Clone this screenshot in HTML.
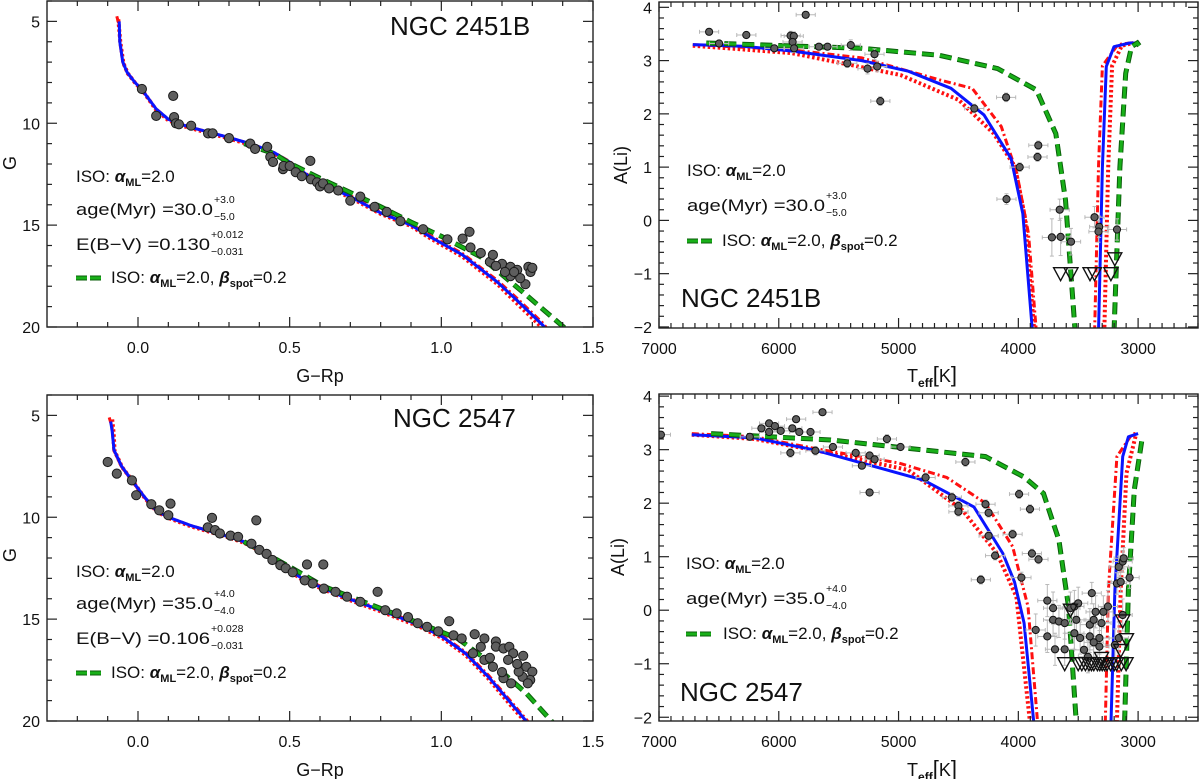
<!DOCTYPE html>
<html><head><meta charset="utf-8"><title>Li depletion and CMD isochrones</title>
<style>
html,body{margin:0;padding:0;background:#fff;}
svg{display:block;font-family:"Liberation Sans",Arial,sans-serif;}
</style></head>
<body>
<svg id="chart" width="1200" height="779" viewBox="0 0 1200 779" xmlns="http://www.w3.org/2000/svg"></svg>
<script>
// ===== DATA: top-left CMD (NGC 2451B) [G-Rp, G] =====
const tlIso = [[-0.062,5.0],[-0.06,6.0],[-0.05,7.0],[-0.036,7.5],[-0.01,8.0],[0.013,8.35],[0.06,9.3],[0.1,9.8],[0.14,10.05],[0.2,10.3],[0.3,10.7],[0.38,11.05],[0.45,11.45],[0.5,11.9],[0.58,12.78],[0.7,13.6],[0.8,14.4],[0.9,15.0],[0.964,15.58],[1.07,16.46],[1.185,17.8],[1.25,18.7],[1.334,19.9],[1.345,20.1]];
const tlDashDot = [[-0.07,4.75],[-0.062,5.2],[-0.06,6.0],[-0.05,7.0],[-0.036,7.5],[-0.01,8.0],[0.013,8.35],[0.06,9.3],[0.1,9.8],[0.14,10.05],[0.2,10.3],[0.3,10.7],[0.38,11.05],[0.45,11.45],[0.5,11.88],[0.58,12.75],[0.7,13.55],[0.8,14.35],[0.9,14.95],[0.964,15.52],[1.07,16.4],[1.185,17.72],[1.25,18.6],[1.334,19.8],[1.35,20.1]];
const tlDot = [[-0.065,4.9],[-0.058,6.05],[-0.048,7.05],[-0.034,7.55],[-0.008,8.05],[0.015,8.4],[0.06,9.35],[0.1,9.85],[0.14,10.1],[0.2,10.35],[0.3,10.75],[0.38,11.1],[0.45,11.5],[0.5,11.95],[0.58,12.85],[0.7,13.65],[0.8,14.45],[0.9,15.05],[0.964,15.65],[1.07,16.55],[1.185,17.9],[1.25,18.85],[1.33,20.0],[1.34,20.2]];
const tlSpot = [[0.35,11.0],[0.45,11.5],[0.492,11.9],[0.6,12.7],[0.7,13.4],[0.8,14.1],[0.9,14.85],[1.0,15.55],[1.13,16.56],[1.27,18.3],[1.403,20.0],[1.42,20.3]];
const tlStars = [[0.013,8.32],[0.116,8.66],[0.06,9.64],[0.119,9.7],[0.125,10.0],[0.135,10.05],[0.175,10.12],[0.231,10.5],[0.246,10.5],[0.30,10.73],[0.37,11.0],[0.386,11.26],[0.426,11.16],[0.436,11.65],[0.445,11.9],[0.478,12.25],[0.48,12.1],[0.5,12.1],[0.52,12.4],[0.54,12.6],[0.568,11.85],[0.57,12.75],[0.59,12.9],[0.60,13.1],[0.61,12.95],[0.63,13.2],[0.66,13.3],[0.70,13.8],[0.733,13.6],[0.78,14.1],[0.82,14.35],[0.865,14.8],[0.94,15.2],[1.02,15.7],[1.07,15.66],[1.093,15.33],[1.096,16.1],[1.13,16.37],[1.16,16.8],[1.17,16.46],[1.2,16.9],[1.228,17.05],[1.25,17.2],[1.287,17.05],[1.294,17.3],[1.228,17.5],[1.277,17.9],[1.26,17.6],[1.24,17.3],[1.3,17.1],[1.21,17.3],[1.18,17.0]];

// ===== DATA: bottom-left CMD (NGC 2547) =====
const blIso = [[-0.09,5.3],[-0.085,5.8],[-0.079,6.7],[-0.054,7.5],[-0.016,8.27],[0.021,9.0],[0.059,9.66],[0.097,9.98],[0.173,10.4],[0.30,10.96],[0.349,11.2],[0.424,11.78],[0.5,12.6],[0.55,13.09],[0.676,13.9],[0.80,14.56],[0.928,15.3],[1.004,15.87],[1.08,16.68],[1.155,17.83],[1.23,19.13],[1.285,20.1]];
const blDashDot = [[-0.095,5.1],[-0.085,5.6],[-0.08,6.7],[-0.055,7.5],[-0.017,8.27],[0.02,9.0],[0.058,9.66],[0.097,9.98],[0.173,10.4],[0.30,10.96],[0.349,11.2],[0.424,11.76],[0.5,12.55],[0.55,13.05],[0.676,13.86],[0.80,14.52],[0.928,15.25],[1.004,15.82],[1.08,16.62],[1.155,17.75],[1.23,19.05],[1.29,20.1]];
const blDot = [[-0.085,5.2],[-0.08,5.9],[-0.077,6.75],[-0.052,7.55],[-0.014,8.3],[0.022,9.05],[0.06,9.7],[0.098,10.02],[0.173,10.44],[0.30,11.0],[0.349,11.25],[0.424,11.83],[0.5,12.65],[0.55,13.15],[0.676,13.95],[0.80,14.62],[0.928,15.37],[1.004,15.94],[1.08,16.76],[1.155,17.92],[1.23,19.25],[1.28,20.1]];
const blSpot = [[0.349,11.2],[0.5,12.43],[0.613,13.4],[0.8,14.48],[0.928,15.2],[1.054,15.95],[1.18,17.34],[1.28,18.64],[1.363,20.0],[1.375,20.2]];
const blStars = [[-0.10,7.29],[-0.07,7.86],[-0.02,8.19],[-0.006,8.92],[0.044,9.36],[0.07,9.66],[0.107,9.33],[0.10,9.9],[0.244,10.03],[0.39,10.15],[0.23,10.5],[0.254,10.63],[0.27,10.8],[0.305,10.9],[0.33,10.96],[0.374,11.3],[0.40,11.6],[0.424,11.8],[0.443,12.1],[0.469,12.35],[0.487,12.5],[0.51,12.7],[0.557,12.32],[0.611,12.32],[0.55,13.1],[0.576,13.25],[0.613,13.5],[0.651,13.66],[0.689,13.9],[0.733,14.15],[0.79,13.66],[0.815,14.56],[0.853,14.72],[0.89,14.9],[0.922,15.2],[0.953,15.38],[0.99,15.6],[1.026,15.1],[1.04,15.8],[1.067,15.95],[1.11,15.74],[1.142,15.95],[1.18,16.1],[1.18,16.35],[1.205,16.44],[1.224,16.36],[1.237,16.68],[1.27,16.8],[1.28,17.34],[1.3,17.58],[1.293,17.99],[1.268,17.83],[1.23,18.15],[1.205,17.9],[1.17,17.34],[1.142,17.0],[1.104,16.68],[1.13,16.36],[1.255,17.58],[1.285,18.15],[1.2,17.6],[1.25,17.2],[1.16,16.9],[1.22,17.0]];

// ===== DATA: top-right Li (NGC 2451B) [Teff, A(Li)] =====
const trBlue = [[6718,3.3],[6300,3.27],[5891,3.18],[5308,3.0],[4919,2.8],[4562,2.48],[4287,1.98],[4060,1.16],[3963,0.13],[3882,-2.1]];
const trBlue2 = [[3331,-2.1],[3298,1.0],[3266,2.89],[3201,3.26],[3071,3.33],[3023,3.33]];
const trDashDot = [[6718,3.3],[5891,3.2],[5308,3.05],[4660,2.64],[4385,2.48],[4142,1.76],[4012,0.88],[3915,-0.25],[3849,-2.1]];
const trDashDot2 = [[3363,-2.1],[3331,1.0],[3298,2.9],[3169,3.3],[3039,3.34]];
const trDot = [[6718,3.28],[5891,3.14],[4984,2.73],[4497,2.26],[4205,1.63],[4027,1.0],[3946,0.07],[3866,-2.1]];
const trDot2 = [[3282,-2.1],[3250,1.0],[3217,2.9],[3136,3.28],[3040,3.33]];
const trSpot = [[6605,3.33],[5308,3.23],[4660,3.1],[4173,2.85],[3849,2.45],[3687,1.63],[3606,0.38],[3525,-2.1]];
const trSpot2 = [[3201,-2.1],[3152,1.0],[3104,2.76],[3055,3.26],[3007,3.33],[2990,3.28]];
const trStars = [[6582,3.54,0.05],[6498,3.32,0.05],[6271,3.48,0.05],[6037,3.23,0.05],[5901,3.47,0.08],[5875,3.46,0.08],[5885,3.35,0.08],[5872,3.23,0.08],[5775,3.86,0.05],[5665,3.26,0.05],[5593,3.26,0.05],[5399,3.29,0.1],[5428,2.95,0.08],[5259,2.85,0.1],[5201,3.12,0.1],[5178,2.89,0.1],[5152,2.24,0.08],[4368,2.1,0.08],[4102,2.31,0.08],[3833,1.41,0.08],[3840,1.19,0.08],[3989,1.0,0.08],[4099,0.4,0.1],[3655,0.2,0.2],[3720,-0.32,0.35],[3647,-0.31,0.35],[3560,-0.4,0.25],[3364,0.06,0.2],[3325,-0.12,0.2],[3331,-0.21,0.2],[3176,-0.17,0.2]];
const trLimits = [[3647,-1.0],[3560,-1.0],[3402,-1.0],[3364,-1.0],[3227,-1.0],[3195,-0.72]];

// ===== DATA: bottom-right Li (NGC 2547) =====
const brBlue = [[6726,3.28],[6200,3.22],[5694,2.99],[4790,2.43],[4371,1.93],[4129,1.06],[4032,0.53],[3952,-0.24],[3871,-2.1]];
const brBlue2 = [[3226,-2.1],[3194,0.38],[3129,2.87],[3081,3.24],[3000,3.3]];
const brDashDot = [[6726,3.3],[6200,3.24],[5694,3.02],[5000,2.75],[4597,2.48],[4274,2.0],[4048,1.19],[3919,0.07],[3839,-2.1]];
const brDashDot2 = [[3274,-2.1],[3248,0.38],[3177,2.87],[3048,3.3],[3020,3.3]];
const brDot = [[6726,3.28],[6200,3.2],[5565,2.93],[4919,2.62],[4468,1.87],[4177,1.06],[4016,0.25],[3903,-2.1]];
const brDot2 = [[3177,-2.1],[3145,0.38],[3097,2.56],[3016,3.3]];
const brSpot = [[6565,3.3],[5565,3.18],[4274,2.87],[3952,2.49],[3790,2.18],[3661,1.31],[3581,0.07],[3516,-2.1]];
const brSpot2 = [[3113,-2.1],[3081,0.38],[3032,2.25],[2968,3.18],[2952,3.22]];
const brStars = [[6984,3.28,0.05],[6242,3.24,0.05],[6145,3.4,0.05],[6081,3.49,0.05],[6081,3.33,0.05],[6032,3.44,0.05],[5984,3.35,0.05],[5903,2.94,0.08],[5887,3.4,0.05],[5855,3.57,0.05],[5829,3.33,0.05],[5735,3.33,0.05],[5694,2.98,0.08],[5635,3.7,0.05],[5548,3.05,0.05],[5358,2.94,0.05],[5306,2.7,0.05],[5242,2.89,0.05],[5200,2.82,0.05],[5242,2.2,0.05],[5097,3.2,0.08],[4984,3.05,0.05],[4774,2.48,0.08],[4555,2.11,0.08],[4500,1.95,0.08],[4500,1.84,0.08],[4442,2.77,0.08],[4274,1.98,0.08],[4248,1.82,0.08],[4248,1.39,0.08],[4194,1.02,0.08],[4313,0.57,0.08],[4048,1.42,0.08],[3994,2.17,0.08],[3974,0.61,0.1],[3903,1.89,0.08],[3887,1.06,0.08],[3832,0.95,0.08],[3855,-0.37,0.3],[3758,0.18,0.3],[3710,0.04,0.3],[3710,-0.18,0.3],[3758,-0.49,0.3],[3694,-0.73,0.3],[3661,-0.21,0.3],[3613,-0.24,0.3],[3613,-0.73,0.3],[3565,0.04,0.3],[3532,0.07,0.3],[3500,0.13,0.3],[3516,-0.18,0.3],[3532,-0.43,0.3],[3484,-0.52,0.3],[3452,-0.74,0.3],[3419,-0.87,0.3],[3403,-0.49,0.3],[3403,-0.27,0.3],[3387,0.32,0.2],[3371,-0.18,0.3],[3355,-0.03,0.3],[3323,-0.52,0.3],[3290,-0.03,0.3],[3252,0.07,0.3],[3177,0.5,0.2],[3161,0.81,0.2],[3129,0.91,0.2],[3120,0.97,0.2],[3145,0.53,0.2],[3071,0.61,0.2],[3129,-0.09,0.3],[3161,-0.52,0.3],[3194,-0.65,0.3],[3306,-0.24,0.3],[3371,-0.6,0.3],[3323,-0.68,0.3]];
const brLimits = [[3613,-1.0],[3500,-1.0],[3470,-1.0],[3440,-1.0],[3410,-1.0],[3390,-1.0],[3370,-1.0],[3340,-1.0],[3320,-1.0],[3300,-1.0],[3280,-1.0],[3260,-1.0],[3230,-1.0],[3200,-1.0],[3180,-1.0],[3140,-1.0],[3100,-1.0],[3565,0.0],[3129,-0.2],[3097,-0.55],[3145,-0.75],[3306,-0.9]];

// tick label arrays
const cmdXTicks = [0.0, 0.5, 1.0, 1.5];
const cmdYTicks = [5, 10, 15, 20];
const liXTicks = [7000, 6000, 5000, 4000, 3000];
const liYTicks = [-2, -1, 0, 1, 2, 3, 4];

const NS = 'http://www.w3.org/2000/svg';
const svg = document.getElementById('chart');
const FONT = '"Liberation Sans", Arial, sans-serif';
let clipId = 0;

function mk(tag, attrs, parent) {
  const el = document.createElementNS(NS, tag);
  for (const k in attrs) el.setAttribute(k, attrs[k]);
  (parent || svg).appendChild(el);
  return el;
}
function lin(d0, d1, p0, p1) { return v => p0 + (v - d0) * (p1 - p0) / (d1 - d0); }

function makePanel(cfg) {
  const g = mk('g', {});
  
  
  const p = { g, cfg, sx: lin(cfg.xmin, cfg.xmax, cfg.x0, cfg.x1), sy: lin(cfg.ymin, cfg.ymax, cfg.y1, cfg.y0) };
  clipId++;
  const cp = mk('clipPath', { id: 'clip' + clipId }, g);
  mk('rect', { x: cfg.x0, y: cfg.y0, width: cfg.x1 - cfg.x0, height: cfg.y1 - cfg.y0 }, cp);
  p.plot = mk('g', { 'clip-path': 'url(#clip' + clipId + ')' }, g);
  
  
  return p;
}

function drawAxes(p, xt, yt, xMinorStep, yMinorStep, xFmt, yFmt) {
  const c = p.cfg, g = p.g;
  const frame = mk('rect', { x: c.x0, y: c.y0, width: c.x1 - c.x0, height: c.y1 - c.y0, fill: 'none', stroke: '#222', 'stroke-width': 1.4 }, g);
  
  
  const tg = mk('g', { stroke: '#222', 'stroke-width': 1.2 }, g);
  
  
  const lo = Math.min(c.xmin, c.xmax), hi = Math.max(c.xmin, c.xmax);
  const nX = Math.round((hi - lo) / xMinorStep);
  for (let i = 0; i <= nX + 1; i++) {
    const v = Math.ceil(lo / xMinorStep) * xMinorStep + i * xMinorStep;
    if (v > hi + 1e-9) break;
    const major = xt.some(t => Math.abs(t - v) < xMinorStep / 10);
    const L = major ? 10 : 5, x = p.sx(v);
    mk('line', { x1: x, x2: x, y1: c.y1, y2: c.y1 - L }, tg);
    mk('line', { x1: x, x2: x, y1: c.y0, y2: c.y0 + L }, tg);
  }
  const ylo = Math.min(c.ymin, c.ymax), yhi = Math.max(c.ymin, c.ymax);
  const nY = Math.round((yhi - ylo) / yMinorStep);
  for (let i = 0; i <= nY + 1; i++) {
    const v = Math.ceil(ylo / yMinorStep - 1e-9) * yMinorStep + i * yMinorStep;
    if (v > yhi + 1e-9) break;
    const major = yt.some(t => Math.abs(t - v) < yMinorStep / 10);
    const L = major ? 10 : 5, y = p.sy(v);
    mk('line', { x1: c.x0, x2: c.x0 + L, y1: y, y2: y }, tg);
    mk('line', { x1: c.x1, x2: c.x1 - L, y1: y, y2: y }, tg);
  }
  xt.forEach(v => {
    const t = mk('text', { x: p.sx(v), y: c.y1 + 26, 'text-anchor': 'middle', 'font-size': 16, fill: '#111' }, g);
    t.textContent = xFmt(v);
    
    
  });
  yt.forEach(v => {
    const t = mk('text', { x: c.x0 - 7, y: p.sy(v) + 6, 'text-anchor': 'end', 'font-size': 16, fill: '#111' }, g);
    t.textContent = yFmt(v);
    
    
  });
}

const STY = {
  blue: { stroke: '#0a14ff', 'stroke-width': 3, fill: 'none', 'stroke-linejoin': 'round' },
  dashdot: { stroke: '#ff1010', 'stroke-width': 3, fill: 'none', 'stroke-dasharray': '7,3,2,3' },
  dot: { stroke: '#ff1010', 'stroke-width': 4, fill: 'none', 'stroke-dasharray': '2.5,2.5' },
  spotEdge: { stroke: '#0b5e0b', 'stroke-width': 5, fill: 'none', 'stroke-dasharray': '12,6' },
  spot: { stroke: '#19b019', 'stroke-width': 3, fill: 'none', 'stroke-dasharray': '12,6' }
};

function drawLine(p, pts, style, name) {
  const d = pts.map((q, i) => (i ? 'L' : 'M') + p.sx(q[0]).toFixed(1) + ',' + p.sy(q[1]).toFixed(1)).join('');
  const a = Object.assign({ d }, STY[style]);
  const el = mk('path', a, p.plot);
  
  
  return el;
}
function drawSpot(p, pts, name) {
  drawLine(p, pts, 'spotEdge', name + '-edge');
  drawLine(p, pts, 'spot', name);
}

function drawCmdStars(p, stars) {
  const g = mk('g', { fill: '#5e5e5e', stroke: '#1a1a1a', 'stroke-width': 1 }, p.plot);
  
  
  stars.forEach(s => {
    const c = mk('circle', { cx: p.sx(s[0]).toFixed(1), cy: p.sy(s[1]).toFixed(1), r: 4.6 }, g);
    
    
  });
}

function drawLiStars(p, stars) {
  const eg = mk('g', { stroke: '#b8b8b8', 'stroke-width': 1 }, p.plot);
  
  
  const g = mk('g', { fill: '#5e5e5e', stroke: '#111', 'stroke-width': 1 }, p.plot);
  
  
  stars.forEach(s => {
    const x = p.sx(s[0]), y = p.sy(s[1]);
    const xa = p.sx(s[0] + 80), xb = p.sx(s[0] - 80);
    const ya = p.sy(s[1] + s[2]), yb = p.sy(s[1] - s[2]);
    mk('line', { x1: xa, x2: xb, y1: y, y2: y }, eg);
    mk('line', { x1: x, x2: x, y1: ya, y2: yb }, eg);
    mk('line', { x1: xa, x2: xa, y1: y - 2, y2: y + 2 }, eg);
    mk('line', { x1: xb, x2: xb, y1: y - 2, y2: y + 2 }, eg);
    mk('line', { x1: x - 2, x2: x + 2, y1: ya, y2: ya }, eg);
    mk('line', { x1: x - 2, x2: x + 2, y1: yb, y2: yb }, eg);
    const c = mk('circle', { cx: x.toFixed(1), cy: y.toFixed(1), r: 3.6 }, g);
    
    
  });
}
function drawLimits(p, lims) {
  const g = mk('g', { fill: 'none', stroke: '#111', 'stroke-width': 1.4 }, p.plot);
  
  
  lims.forEach(s => {
    const x = p.sx(s[0]), y = p.sy(s[1]);
    const t = mk('path', { d: `M${(x - 7).toFixed(1)},${(y - 6).toFixed(1)}L${(x + 7).toFixed(1)},${(y - 6).toFixed(1)}L${x.toFixed(1)},${(y + 7).toFixed(1)}Z` }, g);
    
    
  });
}

function text(x, y, str, size, name, extra) {
  const t = mk('text', Object.assign({ x, y, 'font-size': size, fill: '#111' }, extra || {}));
  t.textContent = str;
  
  
  return t;
}
function isoLabel(x, y, name) {
  const t = mk('text', { x, y, 'font-size': 17, fill: '#111' });
  
  
  t.innerHTML = 'ISO:  <tspan font-weight="bold" font-style="italic">α</tspan><tspan font-size="11" dy="4" font-weight="bold">ML</tspan><tspan dy="-4">=2.0</tspan>';
}
function supSub(x, y, main, len, sup, sub, name) {
  text(x, y, main, 17, name, { textLength: len, lengthAdjust: 'spacingAndGlyphs' });
  text(x + len + 1, y - 12, sup, 10.5, name + '-upper-error');
  text(x + len + 1, y + 5, sub, 10.5, name + '-lower-error');
}
function spotLegend(x, y, tx, name) {
  const g = mk('g', {});
  
  
  mk('line', { x1: x, x2: x + 25, y1: y - 5, y2: y - 5, stroke: '#0b5e0b', 'stroke-width': 5, 'stroke-dasharray': '11,3' }, g);
  mk('line', { x1: x, x2: x + 25, y1: y - 5, y2: y - 5, stroke: '#19b019', 'stroke-width': 3, 'stroke-dasharray': '11,3' }, g);
  const t = mk('text', { x: tx, y, 'font-size': 17, fill: '#111' }, g);
  t.innerHTML = 'ISO:  <tspan font-weight="bold" font-style="italic">α</tspan><tspan font-size="11" dy="4" font-weight="bold">ML</tspan><tspan dy="-4">=2.0,  </tspan><tspan font-weight="bold" font-style="italic">β</tspan><tspan font-size="11" dy="4" font-weight="bold">spot</tspan><tspan dy="-4">=0.2</tspan>';
}
function rotLabel(x, y, str, name) {
  const t = text(x, y, str, 18, name, { 'text-anchor': 'middle', transform: `rotate(-90 ${x} ${y})` });
  return t;
}
function teffLabel(x, y) {
  const t = mk('text', { x, y, 'font-size': 18, fill: '#111', 'text-anchor': 'middle' });
  
  
  t.innerHTML = 'T<tspan font-size="12" dy="5" font-weight="bold">eff</tspan><tspan dy="-5" font-size="22">[</tspan>K<tspan font-size="22">]</tspan>';
}

const fmt1 = v => v.toFixed(1);
const fmtI = v => (v < 0 ? '\u2212' + Math.abs(v) : String(v));

// ---------- Top-left CMD ----------
const TL = makePanel({ name: 'cmd-ngc2451b', x0: 47, x1: 593, y0: 1, y1: 327, xmin: -0.3, xmax: 1.5, ymin: 20, ymax: 4 });
drawLine(TL, tlDot, 'dot', 'isochrone-lower-dotted');
drawLine(TL, tlDashDot, 'dashdot', 'isochrone-upper-dashdot');
drawLine(TL, tlIso, 'blue', 'isochrone-best-fit');
drawSpot(TL, tlSpot, 'isochrone-spotted');
drawCmdStars(TL, tlStars);
drawAxes(TL, cmdXTicks, cmdYTicks, 0.1, 1, fmt1, fmtI);
TL.sy = lin(20, 4, 327, 1);
text(390, 35, 'NGC  2451B', 26, 'cluster-title');
isoLabel(76, 182, 'iso-label');
supSub(76, 215, 'age(Myr)  =30.0', 137, '+3.0', '\u22125.0', 'age-label');
supSub(76, 250, 'E(B\u2212V)  =0.130', 134, '+0.012', '\u22120.031', 'reddening-label');
spotLegend(76, 283, 111, 'spot-legend');
text(320, 382, 'G\u2212Rp', 18, 'x-axis-title', { 'text-anchor': 'middle' });
rotLabel(16, 163, 'G', 'y-axis-title');

// ---------- Bottom-left CMD ----------
const BL = makePanel({ name: 'cmd-ngc2547', x0: 47, x1: 593, y0: 395, y1: 721, xmin: -0.3, xmax: 1.5, ymin: 20, ymax: 4 });
drawLine(BL, blDot, 'dot', 'isochrone-lower-dotted');
drawLine(BL, blDashDot, 'dashdot', 'isochrone-upper-dashdot');
drawLine(BL, blIso, 'blue', 'isochrone-best-fit');
drawSpot(BL, blSpot, 'isochrone-spotted');
drawCmdStars(BL, blStars);
drawAxes(BL, cmdXTicks, cmdYTicks, 0.1, 1, fmt1, fmtI);
text(393, 427, 'NGC  2547', 26, 'cluster-title');
isoLabel(76, 577, 'iso-label');
supSub(76, 609, 'age(Myr)  =35.0', 137, '+4.0', '\u22124.0', 'age-label');
supSub(76, 644, 'E(B\u2212V)  =0.106', 134, '+0.028', '\u22120.031', 'reddening-label');
spotLegend(76, 678, 111, 'spot-legend');
text(320, 776, 'G\u2212Rp', 18, 'x-axis-title', { 'text-anchor': 'middle' });
rotLabel(16, 555, 'G', 'y-axis-title');

// ---------- Top-right Li ----------
const TR = makePanel({ name: 'lithium-ngc2451b', x0: 659, x1: 1198, y0: 2, y1: 328, xmin: 7000, xmax: 2500, ymin: -2.02, ymax: 4.1 });
[[trDot, trDot2, 'dot', 'li-model-lower-dotted'], [trDashDot, trDashDot2, 'dashdot', 'li-model-upper-dashdot'], [trBlue, trBlue2, 'blue', 'li-model-best-fit']].forEach(a => { drawLine(TR, a[0], a[2], a[3]); drawLine(TR, a[1], a[2], a[3] + '-cool-branch'); });
drawSpot(TR, trSpot, 'li-model-spotted');
drawSpot(TR, trSpot2, 'li-model-spotted-cool-branch');
drawLiStars(TR, trStars);
drawLimits(TR, trLimits);
drawAxes(TR, liXTicks, liYTicks, 100, 0.2, v => String(v), fmtI);
text(681, 307, 'NGC  2451B', 26, 'cluster-title');
isoLabel(687, 176, 'iso-label');
supSub(687, 211, 'age(Myr)  =30.0', 138, '+3.0', '\u22125.0', 'age-label');
spotLegend(687, 246, 722, 'spot-legend');
teffLabel(932, 382);
rotLabel(627, 165, 'A(Li)', 'y-axis-title');

// ---------- Bottom-right Li ----------
const BR = makePanel({ name: 'lithium-ngc2547', x0: 659, x1: 1198, y0: 394, y1: 721, xmin: 7000, xmax: 2500, ymin: -2.07, ymax: 4.04 });
[[brDot, brDot2, 'dot', 'li-model-lower-dotted'], [brDashDot, brDashDot2, 'dashdot', 'li-model-upper-dashdot'], [brBlue, brBlue2, 'blue', 'li-model-best-fit']].forEach(a => { drawLine(BR, a[0], a[2], a[3]); drawLine(BR, a[1], a[2], a[3] + '-cool-branch'); });
drawSpot(BR, brSpot, 'li-model-spotted');
drawSpot(BR, brSpot2, 'li-model-spotted-cool-branch');
drawLiStars(BR, brStars);
drawLimits(BR, brLimits);
drawAxes(BR, liXTicks, liYTicks, 100, 0.2, v => String(v), fmtI);
text(680, 701, 'NGC  2547', 26, 'cluster-title');
isoLabel(686, 569, 'iso-label');
supSub(686, 604, 'age(Myr)  =35.0', 139, '+4.0', '\u22124.0', 'age-label');
spotLegend(686, 639, 723, 'spot-legend');
teffLabel(932, 776);
rotLabel(624, 557, 'A(Li)', 'y-axis-title');
</script>
</body></html>
